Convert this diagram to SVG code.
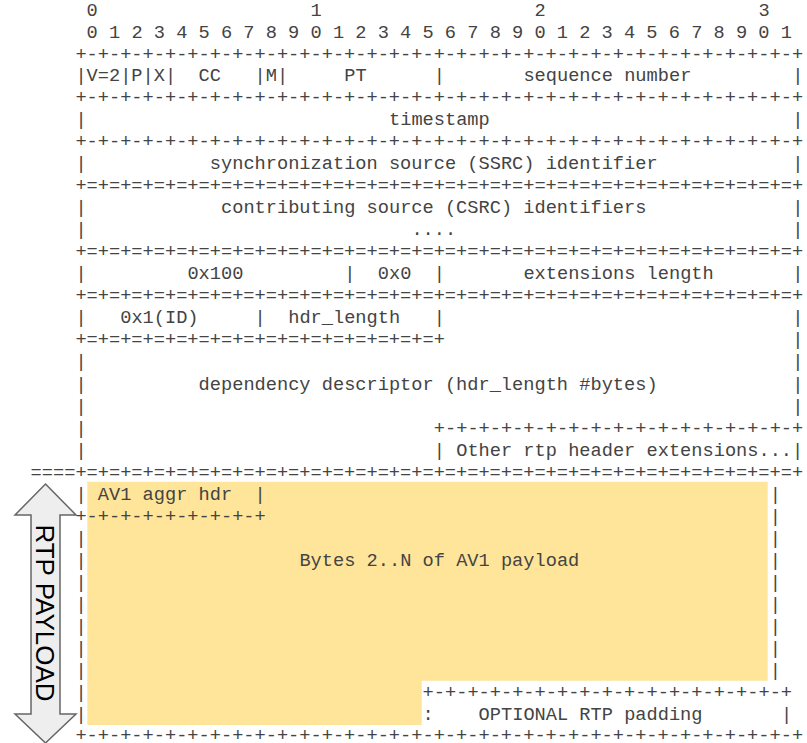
<svg xmlns="http://www.w3.org/2000/svg" width="807" height="743" viewBox="0 0 807 743">
<style>
.m{font-family:"Liberation Mono","Courier New",monospace;font-size:18.67px;fill:#444;white-space:pre}
.lbl{font-family:"Liberation Sans",Arial,sans-serif;font-size:26px;fill:#000}
</style>
<rect width="807" height="743" fill="#fff"/>
<g id="payload-highlight">
<path d="M87.3 481.7H767.7V680.7H421.7V725H87.3Z" fill="#FFE599"/>
</g>
<g id="rtp-payload-arrow">
<path d="M45.5 484L76 515H60V714H76L45.5 743L15 714H31V515H15Z" fill="#eeeeee" stroke="#666" stroke-width="1.5" stroke-linejoin="miter"/>
<text class="lbl" transform="translate(35.5,613) rotate(90)" text-anchor="middle">RTP PAYLOAD</text>
</g>
<g id="bit-ruler">
<text class="m" x="86.6" y="15.9">0</text>
<text class="m" x="310.6" y="15.9">1</text>
<text class="m" x="534.6" y="15.9">2</text>
<text class="m" x="758.6" y="15.9">3</text>
<text class="m" x="86.6" y="38" xml:space="preserve">0 1 2 3 4 5 6 7 8 9 0 1 2 3 4 5 6 7 8 9 0 1 2 3 4 5 6 7 8 9 0 1</text>
</g>
<g id="rtp-fixed-header">
<text class="m" x="75.4" y="59.5">+-+-+-+-+-+-+-+-+-+-+-+-+-+-+-+-+-+-+-+-+-+-+-+-+-+-+-+-+-+-+-+-+</text>
<text class="m" x="75.4" y="81.3">|V=2|P|X|</text>
<text class="m" x="198.6" y="81.3">CC</text>
<text class="m" x="254.6" y="81.3">|M|</text>
<text class="m" x="344.2" y="81.3">PT</text>
<text class="m" x="433.8" y="81.3">|</text>
<text class="m" x="523.4" y="81.3">sequence number</text>
<text class="m" x="792.2" y="81.3">|</text>
<text class="m" x="75.4" y="103.3">+-+-+-+-+-+-+-+-+-+-+-+-+-+-+-+-+-+-+-+-+-+-+-+-+-+-+-+-+-+-+-+-+</text>
<text class="m" x="75.4" y="125.3">|</text>
<text class="m" x="389" y="125.3">timestamp</text>
<text class="m" x="792.2" y="125.3">|</text>
<text class="m" x="75.4" y="147.3">+-+-+-+-+-+-+-+-+-+-+-+-+-+-+-+-+-+-+-+-+-+-+-+-+-+-+-+-+-+-+-+-+</text>
<text class="m" x="75.4" y="169.3">|</text>
<text class="m" x="209.8" y="169.3">synchronization source (SSRC) identifier</text>
<text class="m" x="792.2" y="169.3">|</text>
<text class="m" x="75.4" y="191.3">+=+=+=+=+=+=+=+=+=+=+=+=+=+=+=+=+=+=+=+=+=+=+=+=+=+=+=+=+=+=+=+=+</text>
<text class="m" x="75.4" y="213.3">|</text>
<text class="m" x="221" y="213.3">contributing source (CSRC) identifiers</text>
<text class="m" x="792.2" y="213.3">|</text>
<text class="m" x="75.4" y="235.3">|</text>
<text class="m" x="411.4" y="235.3">....</text>
<text class="m" x="792.2" y="235.3">|</text>
<text class="m" x="75.4" y="257.3">+=+=+=+=+=+=+=+=+=+=+=+=+=+=+=+=+=+=+=+=+=+=+=+=+=+=+=+=+=+=+=+=+</text>
</g>
<g id="extension-header">
<text class="m" x="75.4" y="279.3">|</text>
<text class="m" x="187.4" y="279.3">0x100</text>
<text class="m" x="344.2" y="279.3">|</text>
<text class="m" x="377.8" y="279.3">0x0</text>
<text class="m" x="433.8" y="279.3">|</text>
<text class="m" x="523.4" y="279.3">extensions length</text>
<text class="m" x="792.2" y="279.3">|</text>
<text class="m" x="75.4" y="301.3">+=+=+=+=+=+=+=+=+=+=+=+=+=+=+=+=+=+=+=+=+=+=+=+=+=+=+=+=+=+=+=+=+</text>
<text class="m" x="75.4" y="323.4">|</text>
<text class="m" x="120.2" y="323.4">0x1(ID)</text>
<text class="m" x="254.6" y="323.4">|</text>
<text class="m" x="288.2" y="323.4">hdr_length</text>
<text class="m" x="433.8" y="323.4">|</text>
<text class="m" x="792.2" y="323.4">|</text>
<text class="m" x="75.4" y="345.4">+=+=+=+=+=+=+=+=+=+=+=+=+=+=+=+=+</text>
<text class="m" x="792.2" y="345.4">|</text>
<text class="m" x="75.4" y="367.4">|</text>
<text class="m" x="792.2" y="367.4">|</text>
<text class="m" x="75.4" y="389.5">|</text>
<text class="m" x="198.6" y="389.5">dependency descriptor (hdr_length #bytes)</text>
<text class="m" x="792.2" y="389.5">|</text>
<text class="m" x="75.4" y="411.5">|</text>
<text class="m" x="792.2" y="411.5">|</text>
<text class="m" x="75.4" y="433.5">|</text>
<text class="m" x="433.8" y="433.5">+-+-+-+-+-+-+-+-+-+-+-+-+-+-+-+-+</text>
<text class="m" x="75.4" y="455.5">|</text>
<text class="m" x="433.8" y="455.5" xml:space="preserve">| Other rtp header extensions...|</text>
<text class="m" x="30.6" y="477.6">====+=+=+=+=+=+=+=+=+=+=+=+=+=+=+=+=+=+=+=+=+=+=+=+=+=+=+=+=+=+=+=+=+</text>
</g>
<g id="av1-payload">
<text class="m" x="75.4" y="499.6">|</text>
<text class="m" x="97.8" y="499.6">AV1 aggr hdr</text>
<text class="m" x="254.6" y="499.6">|</text>
<text class="m" x="769.8" y="499.6">|</text>
<text class="m" x="75.4" y="521.6">+-+-+-+-+-+-+-+-+</text>
<text class="m" x="769.8" y="521.6">|</text>
<text class="m" x="75.4" y="543.7">|</text>
<text class="m" x="769.8" y="543.7">|</text>
<text class="m" x="75.4" y="565.7">|</text>
<text class="m" x="299.4" y="565.7">Bytes 2..N of AV1 payload</text>
<text class="m" x="769.8" y="565.7">|</text>
<text class="m" x="75.4" y="587.7">|</text>
<text class="m" x="769.8" y="587.7">|</text>
<text class="m" x="75.4" y="609.8">|</text>
<text class="m" x="769.8" y="609.8">|</text>
<text class="m" x="75.4" y="631.8">|</text>
<text class="m" x="769.8" y="631.8">|</text>
<text class="m" x="75.4" y="653.8">|</text>
<text class="m" x="769.8" y="653.8">|</text>
<text class="m" x="75.4" y="675.8">|</text>
<text class="m" x="769.8" y="675.8">|</text>
</g>
<g id="rtp-padding">
<text class="m" x="75.4" y="697.9">|</text>
<text class="m" x="422.6" y="697.9">+-+-+-+-+-+-+-+-+-+-+-+-+-+-+-+-+</text>
<text class="m" x="75.4" y="719.9">|</text>
<text class="m" x="422.6" y="719.9">:</text>
<text class="m" x="478.6" y="719.9">OPTIONAL RTP padding</text>
<text class="m" x="781" y="719.9">|</text>
<text class="m" x="75.4" y="741.4">+-+-+-+-+-+-+-+-+-+-+-+-+-+-+-+-+-+-+-+-+-+-+-+-+-+-+-+-+-+-+-+-+</text>
</g>
</svg>
